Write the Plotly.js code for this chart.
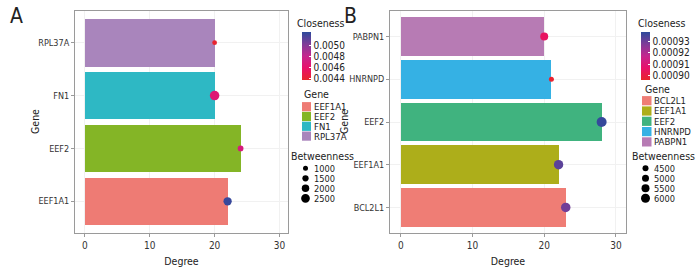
<!DOCTYPE html>
<html><head><meta charset="utf-8">
<script src="https://cdn.plot.ly/plotly-3.0.1.min.js"></script>
<style>html,body{margin:0;padding:0;background:#fff;}#plot{width:700px;height:280px;}</style>
</head><body><div id="plot"></div>
<script>
// ---------- data ----------
const genesA = ["EEF1A1", "EEF2", "FN1", "RPL37A"];
const degreeA = [22, 24, 20, 20];
const closenessA = [0.00520, 0.00470, 0.00465, 0.00440];
const betweennessA = [2300, 1300, 2800, 900];
const barColorsA = ["#EE7B74", "#84B526", "#2EB8C4", "#A985BC"];
const closeTicksA = [0.0044, 0.0046, 0.0048, 0.0050];
const closeTickTextA = ["0.0044", "0.0046", "0.0048", "0.0050"];
const betwBreaksA = [1000, 1500, 2000, 2500];

const genesB = ["BCL2L1", "EEF1A1", "EEF2", "HNRNPD", "PABPN1"];
const degreeB = [23, 22, 28, 21, 20];
const closenessB = [0.000929, 0.000932, 0.000937, 0.000897, 0.000905];
const betweennessB = [6250, 6200, 6500, 4000, 5500];
const barColorsB = ["#EF7D75", "#ADAE1A", "#40B37F", "#35B1E4", "#B77BB4"];
const closeTicksB = [0.00090, 0.00091, 0.00092, 0.00093];
const closeTickTextB = ["0.00090", "0.00091", "0.00092", "0.00093"];
const betwBreaksB = [4500, 5000, 5500, 6000];

const xTicks = [0, 10, 20, 30];

// ---------- styling ----------
const W = 700, H = 280;
const FONT = '"Liberation Sans Narrow", "DejaVu Sans Condensed", "Roboto Condensed", sans-serif';
const colorscale = [[0, '#E8262B'], [0.25, '#E8106A'], [0.5, '#C4268E'], [0.75, '#7E3C98'], [1, '#2D4A9B']];
const sizeA = b => 4.5 + (b - 800) * 0.0025;
const sizeB = b => 6 + (b - 4500) * 0.002;
const px = x => x / W;
const py = y => 1 - y / H;

function panelTraces(genes, degree, clos, betw, barColors, sizeFn, xa, ya, cmin, cmax, cbX, ticks, tickText) {
  return [
    {type: 'bar', orientation: 'h', x: degree, y: genes, width: 0.9,
     marker: {color: barColors, line: {width: 0}}, xaxis: xa, yaxis: ya,
     showlegend: false, hoverinfo: 'x+y'},
    {type: 'scatter', mode: 'markers', x: degree, y: genes, xaxis: xa, yaxis: ya,
     showlegend: false,
     marker: {size: betw.map(sizeFn), color: clos, cmin: cmin, cmax: cmax, colorscale: colorscale,
       line: {width: 0}, opacity: 1,
       colorbar: {x: px(cbX), xanchor: 'left', xpad: 0, y: py(80), yanchor: 'bottom', ypad: 0,
         len: 48, lenmode: 'pixels', thickness: 9, thicknessmode: 'pixels', outlinewidth: 0,
         tickvals: ticks, ticktext: tickText, ticks: 'inside', ticklen: 2, tickcolor: '#fff',
         tickfont: {family: FONT, size: 10, color: '#222'}}}}
  ];
}

const data = [
  ...panelTraces(genesA, degreeA, closenessA, betweennessA, barColorsA, sizeA, 'x', 'y',
    0.004382, 0.00523, 302, closeTicksA, closeTickTextA),
  ...panelTraces(genesB, degreeB, closenessB, betweennessB, barColorsB, sizeB, 'x2', 'y2',
    0.000896, 0.000938, 641, closeTicksB, closeTickTextB)
];

function xAxis(domain, anchor, range) {
  return {domain: domain, anchor: anchor, range: range, tickvals: xTicks,
    showline: true, mirror: true, linecolor: '#9a9a9a', linewidth: 1,
    ticks: 'outside', ticklen: 3, tickcolor: '#9a9a9a', zeroline: false,
    showgrid: true, gridcolor: '#f1f1f1', gridwidth: 1,
    tickfont: {family: FONT, size: 10, color: '#333'},
    title: {text: 'Degree', font: {family: FONT, size: 10.5, color: '#222'}, standoff: 7}};
}
function yAxis(domain, anchor, n) {
  return {domain: domain, anchor: anchor, range: [-0.6, n - 0.4], type: 'category',
    showline: true, mirror: true, linecolor: '#9a9a9a', linewidth: 1,
    ticks: 'outside', ticklen: 3, tickcolor: '#9a9a9a', zeroline: false,
    showgrid: true, gridcolor: '#f1f1f1', gridwidth: 1,
    tickfont: {family: FONT, size: 9, color: '#333'}};
}

const yDom = [1 - 233 / H, 1 - 11 / H];
const layout = {
  width: W, height: H, margin: {l: 0, r: 0, t: 0, b: 0},
  paper_bgcolor: '#fff', plot_bgcolor: '#fff', showlegend: false, bargap: 0,
  font: {family: FONT, size: 10, color: '#222'},
  xaxis: xAxis([px(75), px(288)], 'y', [-1.5, 31.3]),
  yaxis: yAxis(yDom, 'x', genesA.length),
  xaxis2: xAxis([px(390), px(626)], 'y2', [-1.5, 31.4]),
  yaxis2: yAxis(yDom, 'x2', genesB.length),
  annotations: [], shapes: []
};

function ann(text, x, y, size, anchor, angle) {
  layout.annotations.push({text: text, xref: 'paper', yref: 'paper', x: px(x), y: py(y),
    xanchor: anchor || 'left', yanchor: 'middle', showarrow: false, textangle: angle || 0,
    borderpad: 0,
    font: {family: FONT, size: size || 10, color: '#222'}});
}

// panel letters
ann('A', 16, 16, 21, 'center');
ann('B', 350, 16, 21, 'center');
// y-axis titles
ann('Gene', 35, 122, 10.5, 'center', -90);
ann('Gene', 344, 122, 10.5, 'center', -90);

function legendBlock(o) {
  ann('Closeness', o.closeX, 23, 10.5);
  ann('Gene', o.geneX, o.geneTitleY, 10.5);
  o.genes.forEach((g, i) => {
    const yc = o.geneY0 + i * o.genePitch;
    layout.shapes.push({type: 'rect', xref: 'paper', yref: 'paper',
      x0: px(o.swX0), x1: px(o.swX1), y0: py(yc - 4.6), y1: py(yc + 4.6),
      fillcolor: o.colors[i], line: {width: 0}});
    ann(g, o.textX, yc, 9.5);
  });
  ann('Betweenness', o.betwX, 156, 10.5);
  o.breaks.forEach((b, i) => {
    const yc = o.betwY0 + i * 10;
    const d = o.sizeFn(b);
    layout.shapes.push({type: 'circle', xref: 'paper', yref: 'paper',
      x0: px(o.circX - d / 2), x1: px(o.circX + d / 2), y0: py(yc - d / 2), y1: py(yc + d / 2),
      fillcolor: '#000', line: {width: 0}});
    ann(String(b), o.textX, yc, 9.2);
  });
}

legendBlock({closeX: 296, geneX: 303, geneTitleY: 94, genes: genesA, colors: barColorsA,
  geneY0: 106.7, genePitch: 9.8, swX0: 302, swX1: 311, textX: 312.5,
  betwX: 290, breaks: betwBreaksA, betwY0: 168.3, circX: 305.5, sizeFn: sizeA});
legendBlock({closeX: 636.5, geneX: 644, geneTitleY: 89, genes: genesB, colors: barColorsB,
  geneY0: 100.7, genePitch: 10.3, swX0: 642, swX1: 651.5, textX: 653,
  betwX: 631, breaks: betwBreaksB, betwY0: 168.3, circX: 645.5, sizeFn: sizeB});

Plotly.newPlot('plot', data, layout, {staticPlot: true, displayModeBar: false});
</script></body></html>
